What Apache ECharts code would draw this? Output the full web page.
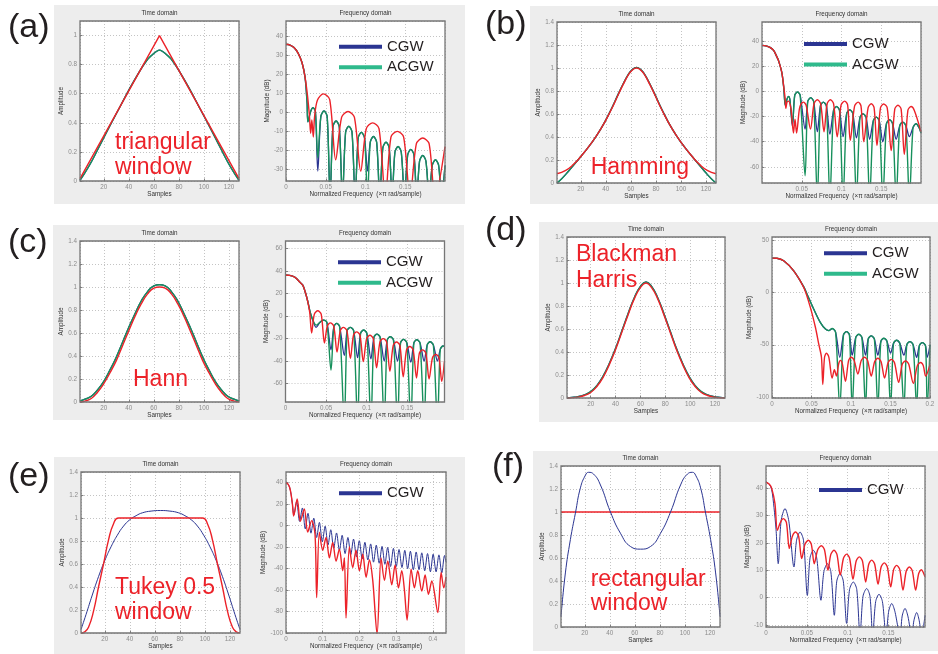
<!DOCTYPE html>
<html><head><meta charset="utf-8">
<script src="https://cdn.jsdelivr.net/npm/echarts@6/dist/echarts.min.js"></script>
<style>html,body{margin:0;padding:0;background:#fff}#c{width:938px;height:654px}</style>
</head><body><div id="c"></div>
<script>
// ---------------- DATA ----------------
// (a) triangular
const aTimeRed = [[1,0.016],[64.5,1],[128,0.016]];
const aTimeAcgw = [[1,0.005],[8,0.1],[16,0.23],[24,0.365],[32,0.495],[40,0.625],[48,0.745],[54,0.825],[58,0.862],[62,0.89],[64.5,0.9],[67,0.89],[71,0.862],[75,0.825],[81,0.745],[89,0.625],[97,0.495],[105,0.365],[113,0.23],[121,0.1],[128,0.005]];
const aFreqRed = [[0,36],[0.005,35.6],[0.01,34.3],[0.015,31.5],[0.02,26.5],[0.024,18.5],[0.027,9],[0.0295,-2],[0.031,-11],[0.0325,-4],[0.0343,-13],[0.036,-2],[0.0395,6.5],[0.047,9.8],[0.055,6.8],[0.0625,-25],[0.07,-2.5],[0.078,0.5],[0.086,-2.5],[0.094,-31],[0.101,-8.5],[0.109,-5.5],[0.117,-8.5],[0.125,-45],[0.132,-13],[0.14,-10],[0.148,-13],[0.156,-45],[0.164,-16.5],[0.172,-13.5],[0.18,-16.5],[0.1875,-45],[0.2,-18]];
const aFreqAcgw = [[0,36],[0.005,35.6],[0.01,34.3],[0.015,31.5],[0.02,26.5],[0.024,18.5],[0.0265,5],[0.0275,-5],[0.031,0.5],[0.034,2.5],[0.037,0.5],[0.04,-24],[0.0438,-2.2],[0.0478,0.8],[0.0518,-2.2],[0.0555,-45],[0.059,-7.5],[0.063,-4.5],[0.067,-7.5],[0.071,-45],[0.075,-10.3],[0.079,-7.3],[0.083,-10.3],[0.087,-45],[0.0908,-13.5],[0.0948,-10.5],[0.0988,-13.5],[0.1025,-45],[0.106,-15.7],[0.11,-12.7],[0.114,-15.7],[0.118,-45],[0.1218,-18.7],[0.1258,-15.7],[0.1298,-18.7],[0.1335,-45],[0.137,-21],[0.141,-18],[0.145,-21],[0.149,-45],[0.153,-22.5],[0.157,-19.5],[0.161,-22.5],[0.1645,-45],[0.168,-25.7],[0.172,-22.7],[0.176,-25.7],[0.18,-45],[0.184,-28],[0.188,-25],[0.192,-28],[0.1955,-45],[0.2,-28]];
const aFreqCgwNulls = [[0.04,-31],[0.1025,-31]];

// (b) Hamming
const bTimeRed = [[1,0.08],[8,0.11],[14,0.16],[20,0.23],[28,0.34],[36,0.47],[44,0.63],[50,0.77],[54,0.86],[58,0.94],[61,0.98],[64.5,1.0],[68,0.98],[71,0.94],[75,0.86],[79,0.77],[85,0.63],[93,0.47],[101,0.34],[109,0.23],[115,0.16],[121,0.11],[128,0.08]];
const bTimeAcgw = [[1,0],[5,0.04],[10,0.1],[15,0.165],[20,0.23],[28,0.34],[36,0.47],[44,0.635],[50,0.775],[54,0.865],[58,0.945],[61,0.985],[64.5,1.005],[68,0.985],[71,0.945],[75,0.865],[79,0.775],[85,0.635],[93,0.47],[101,0.34],[109,0.23],[114,0.165],[119,0.1],[124,0.04],[128,0]];
const bFreqRed = [[0,36.6],[0.005,36.2],[0.01,35],[0.0146,32.6],[0.0187,27.5],[0.0208,24.5],[0.025,14.8],[0.0275,3],[0.0292,-6],[0.03,-13.5],[0.0315,-8.5],[0.0333,-7.7],[0.0365,-14],[0.0396,-33],[0.0415,-22],[0.0435,-33],[0.047,-14],[0.0495,-9.5],[0.052,-8.5],[0.0555,-11],[0.061,-30],[0.0655,-9.6],[0.0696,-6.6],[0.0737,-9.6],[0.078,-32],[0.082,-9.6],[0.086,-6.6],[0.09,-9.6],[0.0946,-36],[0.0995,-10.7],[0.104,-7.7],[0.1077,-10.7],[0.111,-39],[0.1165,-11.5],[0.121,-8.5],[0.1245,-11.5],[0.128,-40],[0.1335,-12.8],[0.1375,-9.8],[0.141,-12.8],[0.1446,-43],[0.149,-13],[0.153,-10],[0.1575,-13],[0.1625,-47],[0.167,-14],[0.171,-11],[0.175,-14],[0.179,-50],[0.1835,-15],[0.1875,-12],[0.1915,-15],[0.2,-32]];
const bFreqAcgw = [[0,36.6],[0.005,36.2],[0.01,35],[0.0146,32.6],[0.0187,27.5],[0.0208,24.5],[0.025,14.8],[0.0275,2],[0.0292,-11],[0.0315,-6],[0.0333,-4],[0.035,-6],[0.0383,-26],[0.0412,-3],[0.0446,-0.5],[0.048,-3],[0.0542,-67],[0.0575,-8],[0.0613,-5],[0.065,-8],[0.0696,-85],[0.0735,-11.5],[0.0771,-8.5],[0.081,-11.5],[0.0854,-85],[0.09,-15],[0.0938,-12],[0.0975,-15],[0.102,-85],[0.1065,-17.6],[0.1104,-14.6],[0.1142,-17.6],[0.1188,-85],[0.1232,-20.8],[0.127,-17.8],[0.131,-20.8],[0.1354,-85],[0.14,-23.4],[0.1438,-20.4],[0.1475,-23.4],[0.152,-85],[0.1566,-25.5],[0.1604,-22.5],[0.1642,-25.5],[0.1688,-85],[0.1732,-27.4],[0.177,-24.4],[0.181,-27.4],[0.1854,-85],[0.19,-28.7],[0.1938,-25.7],[0.1975,-28.7],[0.2,-33]];
const bFreqCgwNulls = [[0.0383,-28],[0.0542,-30],[0.0696,-32],[0.0854,-34],[0.102,-36],[0.1188,-37],[0.1354,-38],[0.152,-40],[0.1688,-38],[0.1854,-36]];

// (c) Hann
const cTimeRed = [[1,0],[5,0.008],[10,0.03],[15,0.085],[20,0.16],[25,0.255],[30,0.36],[35,0.49],[40,0.62],[45,0.745],[50,0.855],[55,0.94],[60,0.99],[64.5,1.0],[69,0.99],[74,0.94],[79,0.855],[84,0.745],[89,0.62],[94,0.49],[99,0.36],[104,0.255],[109,0.16],[114,0.085],[119,0.03],[124,0.008],[128,0]];
const cTimeAcgw = [[1,0.01],[5,0.025],[10,0.05],[15,0.105],[20,0.18],[25,0.28],[30,0.39],[35,0.52],[40,0.65],[45,0.77],[50,0.88],[55,0.96],[60,1.01],[64.5,1.02],[69,1.01],[74,0.96],[79,0.88],[84,0.77],[89,0.65],[94,0.52],[99,0.39],[104,0.28],[109,0.18],[114,0.105],[119,0.05],[124,0.025],[128,0.01]];
const cFreqRed = [[0,36.5],[0.005,36.2],[0.01,35.2],[0.0135,33.5],[0.0172,30.5],[0.0213,27.5],[0.0245,21],[0.0275,12.7],[0.0299,3],[0.0322,-15],[0.0355,1.5],[0.0398,4.7],[0.044,1.7],[0.048,-24],[0.0515,-9],[0.0553,-6],[0.0595,-9],[0.0635,-32],[0.0675,-13],[0.0713,-10],[0.0757,-13],[0.08,-37.6],[0.0838,-17],[0.0877,-14],[0.0918,-17],[0.0959,-40.5],[0.1,-20],[0.1041,-17],[0.1082,-20],[0.1123,-46],[0.1164,-23],[0.1205,-20],[0.1246,-23],[0.1287,-49],[0.1328,-26],[0.1369,-23],[0.141,-26],[0.1451,-54],[0.1492,-30],[0.1533,-27],[0.1574,-30],[0.1615,-55],[0.165,-33],[0.1689,-30],[0.173,-33],[0.177,-56],[0.1812,-37],[0.1852,-34],[0.1892,-37],[0.1926,-58],[0.196,-40]];
const cFreqAcgw = [[0,36.5],[0.005,36.2],[0.01,35.2],[0.0135,33.5],[0.0172,30.5],[0.0213,27.5],[0.0245,21],[0.0275,13],[0.0299,5],[0.0328,-2],[0.0377,-8],[0.0425,-5.5],[0.0467,-3.5],[0.051,-5.5],[0.0561,-48],[0.0596,-9.5],[0.0631,-6.5],[0.0668,-9.5],[0.0725,-95],[0.076,-13],[0.0799,-10],[0.084,-13],[0.0889,-95],[0.0925,-15.4],[0.0963,-12.4],[0.1003,-15.4],[0.1053,-95],[0.109,-19],[0.1127,-16],[0.1167,-19],[0.1217,-95],[0.1254,-21.3],[0.1291,-18.3],[0.1331,-21.3],[0.1381,-95],[0.1418,-23.7],[0.1455,-20.7],[0.1495,-23.7],[0.1545,-95],[0.1582,-24],[0.1619,-21],[0.1659,-24],[0.1709,-95],[0.1746,-25.8],[0.1783,-22.8],[0.1823,-25.8],[0.1873,-95],[0.1908,-29.6],[0.1943,-26.6],[0.196,-27]];
const cFreqCgwNulls = [[0.0377,-10],[0.0561,-30],[0.0725,-35],[0.0889,-37],[0.1053,-38],[0.1217,-40],[0.1381,-40],[0.1545,-41],[0.1709,-40],[0.1873,-40]];

// (d) Blackman Harris
const dTimeRed = [[1,0],[5,0.002],[10,0.008],[15,0.022],[20,0.048],[25,0.1],[30,0.18],[35,0.29],[40,0.42],[45,0.57],[50,0.72],[55,0.86],[60,0.96],[64.5,1.0],[69,0.96],[74,0.86],[79,0.72],[84,0.57],[89,0.42],[94,0.29],[99,0.18],[104,0.1],[109,0.048],[114,0.022],[119,0.008],[124,0.002],[128,0]];
const dTimeAcgw = [[1,0.002],[5,0.005],[10,0.012],[15,0.028],[20,0.055],[25,0.108],[30,0.19],[35,0.3],[40,0.43],[45,0.58],[50,0.73],[55,0.87],[60,0.97],[64.5,1.01],[69,0.97],[74,0.87],[79,0.73],[84,0.58],[89,0.43],[94,0.3],[99,0.19],[104,0.108],[109,0.055],[114,0.028],[119,0.012],[124,0.005],[128,0.002]];
const dFreqRed = [[0,33],[0.0063,32.8],[0.0148,30.4],[0.0275,20.8],[0.0402,4.8],[0.0486,-14.4],[0.055,-33.5],[0.0592,-49.5],[0.0626,-62],[0.0643,-88],[0.0665,-62],[0.0689,-58],[0.072,-62],[0.0761,-82],[0.079,-74],[0.0816,-80],[0.0845,-68],[0.0867,-65],[0.089,-68],[0.093,-85],[0.097,-65],[0.1002,-62],[0.104,-65],[0.1087,-78],[0.113,-65],[0.1171,-62],[0.121,-65],[0.1256,-80],[0.13,-66],[0.134,-63],[0.138,-66],[0.1425,-82],[0.147,-67],[0.151,-64],[0.155,-67],[0.1603,-86],[0.165,-68.5],[0.1691,-65.5],[0.173,-68.5],[0.1789,-87],[0.184,-70],[0.1882,-67],[0.1915,-70],[0.1945,-80],[0.2,-69]];
const dFreqAcgw = [[0,33],[0.0063,32.8],[0.0148,30.4],[0.0275,20.8],[0.0402,5.5],[0.0444,-1.6],[0.0529,-16],[0.0613,-28.8],[0.0677,-35],[0.0719,-36.5],[0.0761,-34.5],[0.0805,-38],[0.0858,-110],[0.0905,-40.4],[0.0943,-37.4],[0.098,-40.4],[0.1015,-110],[0.106,-43],[0.1099,-40],[0.1138,-43],[0.1184,-110],[0.1218,-44.5],[0.1256,-41.5],[0.1296,-44.5],[0.134,-110],[0.1378,-46.8],[0.1416,-43.8],[0.1456,-46.8],[0.1501,-110],[0.1538,-48.7],[0.1577,-45.7],[0.1618,-48.7],[0.167,-110],[0.1706,-50],[0.1746,-47],[0.1786,-50],[0.1831,-110],[0.1865,-51],[0.1903,-48],[0.1943,-51],[0.1965,-110],[0.2,-50]];
const dFreqCgwNulls = [[0.0858,-62],[0.1015,-60],[0.1184,-60],[0.134,-60],[0.1501,-58],[0.167,-60],[0.1831,-62],[0.1965,-62]];

// (e) Tukey 0.5
const eTimeRed = [[1,0],[4,0.01],[7,0.05],[11,0.19],[15,0.4],[19,0.6],[23,0.81],[27,0.95],[31,1.0],[98,1.0],[102,0.95],[106,0.81],[110,0.6],[114,0.4],[118,0.19],[122,0.05],[125,0.01],[128,0]];
const eTimeCgw = [[1,0.03],[5,0.16],[10,0.33],[15,0.49],[20,0.63],[25,0.75],[30,0.85],[35,0.93],[40,0.985],[45,1.02],[50,1.045],[57,1.06],[64.5,1.065],[72,1.06],[79,1.045],[84,1.02],[89,0.985],[94,0.93],[99,0.85],[104,0.75],[109,0.63],[114,0.49],[119,0.33],[124,0.16],[128,0.03]];
const eFreqRed = [[0,40],[0.005,39],[0.01,35.5],[0.014,29],[0.0175,20],[0.0209,9],[0.0305,25],[0.0391,4],[0.05,15.6],[0.0591,-6],[0.07,4.7],[0.0791,-8],[0.0836,-67],[0.0909,-6],[0.1,-23],[0.1091,-11],[0.1182,-30],[0.1273,-15.6],[0.1364,-33],[0.1455,-22],[0.1545,-42],[0.1591,-30],[0.1636,-86],[0.1727,-19.7],[0.1818,-39],[0.1909,-22.8],[0.2,-42],[0.2091,-26.6],[0.2182,-48],[0.2273,-32],[0.2364,-51],[0.2482,-101],[0.2591,-30],[0.2682,-51],[0.2773,-32.8],[0.2882,-55],[0.2973,-36.6],[0.3064,-58],[0.3155,-42],[0.3227,-60],[0.33,-88],[0.3409,-40.6],[0.35,-58],[0.3591,-42],[0.37,-61],[0.3791,-46],[0.3882,-64],[0.3973,-51.6],[0.4136,-81],[0.4227,-43.7],[0.43,-58],[0.436,-48]];
const eFreqCgw = [[0,40],[0.005,39],[0.01,35.5],[0.014,29],[0.0175,20],[0.0215,10],[0.029,22.5],[0.037,4],[0.0447,16.5],[0.0525,-3],[0.06,11.5],[0.068,-7],[0.0757,7],[0.0835,-11],[0.091,3],[0.099,-15],[0.1067,-0.5],[0.1145,-18],[0.122,-3.8],[0.13,-21],[0.1377,-6.8],[0.1455,-23],[0.153,-9],[0.161,-26],[0.1687,-11],[0.1765,-27],[0.184,-12.5],[0.192,-29],[0.1997,-14],[0.2075,-31],[0.215,-15.5],[0.223,-32],[0.2307,-17],[0.2385,-34],[0.246,-18.2],[0.254,-35],[0.2617,-19.3],[0.2695,-36],[0.277,-20.3],[0.285,-38],[0.2927,-21.2],[0.3005,-38],[0.308,-22.2],[0.316,-39],[0.3237,-23],[0.3315,-40],[0.339,-23.8],[0.347,-41],[0.3547,-24.5],[0.3625,-41],[0.37,-25.3],[0.378,-42],[0.3857,-26],[0.3935,-43],[0.401,-26.6],[0.409,-43],[0.4167,-27.2],[0.4245,-44],[0.432,-27.8],[0.436,-34]];

// (f) rectangular
const fTimeRed = [[1,1],[128,1]];
const fTimeCgw = [[1,0.09],[4.5,0.47],[8.5,0.76],[12.5,0.99],[16.5,1.21],[20.5,1.32],[23,1.345],[27,1.33],[32.5,1.235],[40.5,1.0],[48.5,0.815],[56.5,0.7],[64.5,0.677],[72.5,0.7],[80.5,0.815],[88.5,1.0],[96.5,1.235],[102,1.33],[106,1.345],[108.5,1.32],[112.5,1.21],[116.5,0.99],[120.5,0.76],[124.5,0.47],[128,0.09]];
const fFreqRed = [[0,42.3],[0.0041,41.5],[0.007,40],[0.011,34.4],[0.0139,24.6],[0.0176,27.5],[0.0213,28.9],[0.025,27.5],[0.0286,18],[0.0324,22.5],[0.0363,24],[0.04,22.5],[0.0438,14.3],[0.0478,19.5],[0.0519,21],[0.0556,19.5],[0.0592,12.4],[0.0634,17.5],[0.0679,19],[0.0717,17.5],[0.076,10],[0.0795,15.8],[0.0834,17.3],[0.087,15.8],[0.0911,8.2],[0.095,14.4],[0.0989,15.9],[0.1025,14.4],[0.1067,6.7],[0.1106,13.4],[0.1145,14.9],[0.1183,13.4],[0.1222,5.7],[0.126,12.2],[0.1296,13.7],[0.1333,12.2],[0.1374,4.9],[0.1412,11.2],[0.1451,12.7],[0.1488,11.2],[0.1529,3.9],[0.1566,10.3],[0.1602,11.8],[0.164,10.3],[0.168,2.7],[0.172,9.7],[0.1758,11.2],[0.1795,9.7],[0.1835,2.7],[0.1872,8.7],[0.1905,10.2],[0.195,7.6]];
const fFreqCgw = [[0,42.3],[0.0041,41.5],[0.007,39.5],[0.0098,33],[0.0123,25],[0.015,12.4],[0.0185,28],[0.0233,32.6],[0.028,28],[0.0343,11.2],[0.0375,21],[0.0417,24],[0.046,21],[0.0507,0.8],[0.054,14.5],[0.0581,17.3],[0.0622,14.5],[0.0674,-1],[0.071,9.5],[0.0753,12.4],[0.0795,9.5],[0.0838,-6.5],[0.0868,6],[0.0908,8.8],[0.0948,6],[0.0989,-9.5],[0.1025,3],[0.1071,5.7],[0.1113,3],[0.1153,-14],[0.119,0.5],[0.1235,3.3],[0.1275,0.5],[0.1308,-14],[0.1345,-1.5],[0.1386,1.2],[0.1428,-1.5],[0.1472,-14],[0.1505,-5],[0.1542,-2.2],[0.158,-5],[0.1644,-14],[0.167,-6.8],[0.1705,-4],[0.174,-6.8],[0.1786,-14],[0.1815,-8.3],[0.1848,-5.5],[0.1878,-8.3],[0.1909,-14],[0.195,-6.5]];

// texts
const panelLetters = ['(a)','(b)','(c)','(d)','(e)','(f)'];
const windowLabels = [['triangular','window'],['Hamming'],['Hann'],['Blackman','Harris'],['Tukey 0.5','window'],['rectangular','window']];
const legendNames = [['CGW','ACGW'],['CGW','ACGW'],['CGW','ACGW'],['CGW','ACGW'],['CGW'],['CGW']];
const timeTitle = 'Time domain', freqTitle = 'Frequency domain';
const timeXName = 'Samples', timeYName = 'Amplitude';
const freqXName = 'Normalized Frequency  (\u00d7\u03c0 rad/sample)', freqYName = 'Magnitude (dB)';

// ---------------- LAYOUT ----------------
const L = [
 {box:[54,5,411,199], letter:[8,28], tg:[80,21,159,160], fg:[286,21,159,160], tY:[0,1.1,false], fX:[0,0.2,0.05,true,false], fY:[-36.2,48.3,10,false], fGap:15.8, leg:[339,38.2], lab:[[115,143],[115,168]]},
 {box:[530,6,408,198], letter:[485,25], tg:[557,22,159,161], fg:[762,22,159,161], tY:[0,1.4,true], fX:[0,0.2,0.05,false,false], fY:[-72.8,55.2,20,false], fGap:15.2, leg:[804,35.5], lab:[[590.7,168]]},
 {box:[53,225,411,195], letter:[8,243], tg:[80,241,159,161], fg:[285.5,241,159,161], tY:[0,1.4,true], fX:[0,0.196,0.05,true,false], fY:[-76.4,66.8,20,false], fGap:16.3, leg:[338,253.8], lab:[[133,380]]},
 {box:[539,222,399,200], letter:[485,231], tg:[567,237,158,161], fg:[772,237,158,161], tY:[0,1.4,true], fX:[0,0.2,0.05,true,true], fY:[-101,53.2,50,false], fGap:19.9, leg:[824,244.8], lab:[[576,255],[576,281]]},
 {box:[54,457,411,197], letter:[8,477], tg:[81,472,159,161], fg:[286,472,160,161], tY:[0,1.4,true], fX:[0,0.436,0.1,true,false], fY:[-100,50,20,true], fGap:18.9, leg:[339,484.8], lab:[[115,588],[115,613]]},
 {box:[533,451,405,200], letter:[492,467], tg:[561,466,159,161], fg:[766,466,159,161], tY:[0,1.4,true], fX:[0,0.195,0.05,true,false], fY:[-10.8,48.2,10,false], fGap:15.8, leg:[819,481.5], lab:[[590.7,580],[590.7,604]]}
];

const FONT = '"Liberation Sans", Arial, Helvetica, sans-serif';
const RED = '#ec2229', BLUE = '#2b3592', GREEN = '#17905c', GREEN_LEG = '#2fba8c';

function withNulls(base, nulls){
  const m = new Map(nulls.map(p => [p[0], p[1]]));
  return base.map(p => m.has(p[0]) ? [p[0], m.get(p[0])] : p);
}

const grids = [], xAxes = [], yAxes = [], series = [], graphics = [], legends = [];

function axis(gi, min, max, step, showMin, showMax, name, gap){
  return {type:'value', gridIndex:gi, min, max, minInterval:step, maxInterval:step, splitNumber:5,
    axisLine:{show:false, onZero:false},
    axisTick:{show:true, inside:true, length:2.5, lineStyle:{color:'#808080', width:1}},
    axisLabel:{fontSize:6.3, color:'#8c8c8c', margin:3, fontFamily:FONT, showMinLabel:showMin, showMaxLabel:showMax},
    splitLine:{show:true, lineStyle:{color:'#c4c4c4', type:[1,2], width:1}},
    name, nameLocation:'middle', nameGap:gap, nameTextStyle:{fontSize:6.3, color:'#333', fontFamily:FONT}};
}
function line(name, gi, data, color, width, smooth, legColor){
  return {type:'line', name, xAxisIndex:gi, yAxisIndex:gi, data, showSymbol:false, symbol:'none', smooth,
    clip:true, silent:true, color: legColor || color, lineStyle:{color, width}, itemStyle:{color: legColor || color},
    emphasis:{disabled:true}, animation:false, z: 2};
}

L.forEach((p, i) => {
  graphics.push({type:'rect', shape:{x:p.box[0], y:p.box[1], width:p.box[2], height:p.box[3]}, style:{fill:'#ededed'}, z:-10, silent:true});
  const ti = grids.length, fi = ti + 1;
  [p.tg, p.fg].forEach(g => {
    grids.push({left:g[0], top:g[1], width:g[2], height:g[3], show:true, backgroundColor:'#fff', borderWidth:0, containLabel:false, outerBoundsMode:'none'});
    graphics.push({type:'rect', shape:{x:g[0], y:g[1], width:g[2], height:g[3]}, style:{fill:'none', stroke:'#767676', lineWidth:1.3}, z:50, silent:true});
  });
  graphics.push({type:'text', x:p.tg[0]+p.tg[2]/2, y:p.tg[1]-7.5, style:{text:timeTitle, font:'6.3px '+FONT, fill:'#333', align:'center', verticalAlign:'middle', textAlign:'center', textVerticalAlign:'middle'}, z:60});
  graphics.push({type:'text', x:p.fg[0]+p.fg[2]/2, y:p.fg[1]-7.5, style:{text:freqTitle, font:'6.3px '+FONT, fill:'#333', align:'center', verticalAlign:'middle', textAlign:'center', textVerticalAlign:'middle'}, z:60});
  graphics.push({type:'text', x:p.letter[0], y:p.letter[1], style:{text:panelLetters[i], font:'34px '+FONT, fill:'#231f20', align:'left', verticalAlign:'middle', textAlign:'left', textVerticalAlign:'middle'}, z:60});
  windowLabels[i].forEach((t, k) => {
    graphics.push({type:'text', x:p.lab[k][0], y:p.lab[k][1], style:{text:t, font:'23px '+FONT, fill:RED, align:'left', verticalAlign:'middle', textAlign:'left', textVerticalAlign:'middle'}, z:60});
  });
  xAxes.push(axis(ti, 1, 128, 20, false, false, timeXName, 9.3));
  yAxes.push(axis(ti, p.tY[0], p.tY[1], 0.2, true, p.tY[2], timeYName, 12.5));
  xAxes.push(axis(fi, p.fX[0], p.fX[1], p.fX[2], p.fX[3], p.fX[4], freqXName, 9.3));
  yAxes.push(axis(fi, p.fY[0], p.fY[1], p.fY[2], p.fY[3], false, freqYName, p.fGap));
  legends.push({show:true, left:p.leg[0], top:p.leg[1], orient:'vertical', padding:0, itemWidth:43, itemHeight:4, itemGap:3.5, icon:'rect', selectedMode:false,
    data:legendNames[i], textStyle:{fontSize:15, lineHeight:17, color:'#231f20', fontFamily:FONT}, z:40});
});

const panelSeries = [
 {t:[[ 'CGW', aTimeAcgw], ['ACGW', aTimeAcgw], ['red', aTimeRed, 0]], f:[['CGW', withNulls(aFreqAcgw, aFreqCgwNulls)], ['ACGW', aFreqAcgw], ['red', aFreqRed]]},
 {t:[[ 'CGW', bTimeAcgw], ['ACGW', bTimeAcgw], ['red', bTimeRed]], f:[['CGW', withNulls(bFreqAcgw, bFreqCgwNulls)], ['ACGW', bFreqAcgw], ['red', bFreqRed]]},
 {t:[[ 'CGW', cTimeAcgw], ['ACGW', cTimeAcgw], ['red', cTimeRed]], f:[['CGW', withNulls(cFreqAcgw, cFreqCgwNulls)], ['ACGW', cFreqAcgw], ['red', cFreqRed]]},
 {t:[[ 'CGW', dTimeAcgw], ['ACGW', dTimeAcgw], ['red', dTimeRed]], f:[['CGW', withNulls(dFreqAcgw, dFreqCgwNulls)], ['ACGW', dFreqAcgw], ['red', dFreqRed]]},
 {t:[[ 'CGW', eTimeCgw], ['red', eTimeRed]], f:[['CGW', eFreqCgw], ['red', eFreqRed]]},
 {t:[[ 'red', fTimeRed, 0], ['CGW', fTimeCgw]], f:[['CGW', fFreqCgw], ['red', fFreqRed]]}
];
panelSeries.forEach((ps, i) => {
  const thin = i >= 4;
  [['t', 2*i], ['f', 2*i+1]].forEach(([key, gi]) => {
    ps[key].forEach(s => {
      const sm = s[2] === 0 ? false : (key === 't' ? 0.5 : 0.3);
      if (s[0] === 'CGW') series.push(line('CGW', gi, s[1], BLUE, thin ? 1.0 : 1.3, sm));
      else if (s[0] === 'ACGW') series.push(line('ACGW', gi, s[1], GREEN, 1.4, sm, GREEN_LEG));
      else series.push(line(windowLabels[i].join(' '), gi, s[1], RED, 1.4, sm));
    });
  });
});

const chart = echarts.init(document.getElementById('c'), null, {renderer:'canvas'});
chart.setOption({
  animation:false,
  backgroundColor:'#fff',
  textStyle:{fontFamily:FONT},
  grid:grids, xAxis:xAxes, yAxis:yAxes, series, legend:legends,
  graphic:{elements:graphics}
});
</script>
</body></html>
